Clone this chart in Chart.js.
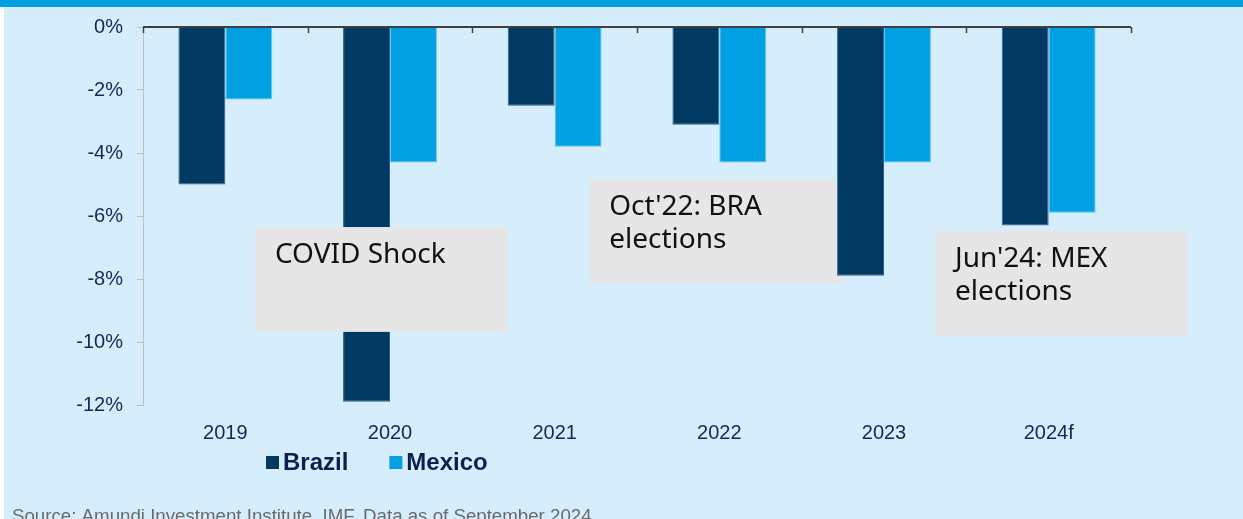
<!DOCTYPE html>
<html>
<head>
<meta charset="utf-8">
<script src="https://cdn.jsdelivr.net/npm/chart.js@4.4.1/dist/chart.umd.min.js"></script>
<style>
    body { margin: 0; background: #ffffff; }
    #wrap { position: relative; width: 1243px; height: 519px; overflow: hidden; }
    #panel { position: absolute; left: 4px; top: 7px; right: 0; bottom: 0; background: #d6eefc; }
    #topBar { position: absolute; left: 0; top: 0; width: 1243px; height: 7px; background: #00a0e3; }
    #budgetChart { position: absolute; left: 0; top: 0; }
</style>
</head>
<body>
<div id="wrap">
    <div id="panel"></div>
    <div id="topBar"></div>
    <canvas id="budgetChart" width="1243" height="519"></canvas>
</div>
<script>
// fiscal balance, % of GDP
const years = ["2019", "2020", "2021", "2022", "2023", "2024f"];
const brazil = [-5.0, -11.9, -2.5, -3.1, -7.9, -6.3];
const mexico = [-2.3, -4.3, -3.8, -4.3, -4.3, -5.9];
const seriesNames = ["Brazil", "Mexico"];
const sourceText = "Source: Amundi Investment Institute, IMF. Data as of September 2024";

// text boxes, placed in axis units (category index, % value)
const notes = [
    { lines: ["COVID Shock"], x0: 0.18, x1: 1.71, y0: -6.35, y1: -9.68, under: false },
    { lines: ["Oct'22: BRA", "elections"], x0: 2.21, x1: 3.745, y0: -4.83, y1: -8.13, under: true },
    { lines: ["Jun'24: MEX", "elections"], x0: 4.31, x1: 5.84, y0: -6.48, y1: -9.81, under: false }
];

const navy = "#0e2a56";
const brazilColor = "#003a63";
const mexicoColor = "#00a0e2";

function drawNotes(chart, under) {
    const ctx = chart.ctx;
    const xs = chart.scales.x, ys = chart.scales.y;
    ctx.save();
    notes.filter(n => n.under === under).forEach(n => {
        const left = xs.getPixelForValue(n.x0), right = xs.getPixelForValue(n.x1);
        const top = ys.getPixelForValue(n.y0), bottom = ys.getPixelForValue(n.y1);
        ctx.fillStyle = "#e6e6e6";
        ctx.fillRect(left, top, right - left, bottom - top);
        ctx.fillStyle = "#111111";
        ctx.font = "28px 'Noto Sans'";
        ctx.textAlign = "left";
        ctx.textBaseline = "alphabetic";
        n.lines.forEach((t, i) => ctx.fillText(t, left + 20, top + 36 + i * 33));
    });
    ctx.restore();
}

const notesPlugin = {
    id: "notes",
    beforeDatasetsDraw(chart) { drawNotes(chart, true); },
    afterDatasetsDraw(chart) {
        drawNotes(chart, false);
        // zero line with category ticks
        const ctx = chart.ctx;
        const xs = chart.scales.x;
        const y0 = chart.scales.y.getPixelForValue(0);
        const area = chart.chartArea;
        ctx.save();
        ctx.strokeStyle = "#404040";
        ctx.lineWidth = 2;
        ctx.beginPath();
        ctx.moveTo(area.left, y0);
        ctx.lineTo(area.right, y0);
        ctx.stroke();
        ctx.lineWidth = 1.5;
        for (let i = 0; i <= years.length; i++) {
            const x = Math.round(xs.getPixelForValue(i - 0.5)) + 0.5;
            ctx.beginPath();
            ctx.moveTo(x, y0);
            ctx.lineTo(x, y0 + 6);
            ctx.stroke();
        }
        ctx.restore();
    },
    afterDraw(chart) {
        const ctx = chart.ctx;
        ctx.save();
        // legend
        ctx.font = "bold 24px 'Liberation Sans'";
        ctx.textBaseline = "middle";
        ctx.textAlign = "left";
        let x = 266;
        const ly = 462;
        chart.data.datasets.forEach((ds, i) => {
            ctx.fillStyle = ds.backgroundColor;
            ctx.fillRect(x, ly - 6, 13, 13);
            ctx.fillStyle = "#0b2050";
            ctx.fillText(ds.label, x + 17, ly + 1);
            x += 17 + ctx.measureText(ds.label).width + 41;
        });
        // source
        ctx.font = "18.7px 'Liberation Sans'";
        ctx.fillStyle = "#6a6a6a";
        ctx.textBaseline = "alphabetic";
        ctx.fillText(sourceText, 12, 522);
        ctx.restore();
    }
};

const ctxBudget = document.getElementById("budgetChart");
const dataBudget = {
    labels: years,
    datasets: [{
        label: seriesNames[0],
        data: brazil,
        backgroundColor: brazilColor,
        borderColor: "#2f6088",
        borderWidth: 1
    },
    {
        label: seriesNames[1],
        data: mexico,
        backgroundColor: mexicoColor,
        borderColor: "#62c4ef",
        borderWidth: 1
    }]
};
const configBudget = {
    type: "bar",
    data: dataBudget,
    plugins: [notesPlugin],
    options: {
        responsive: false,
        animation: false,
        layout: { padding: { top: 27, right: 112, left: 0, bottom: 0 } },
        datasets: { bar: { categoryPercentage: 0.57, barPercentage: 1.0 } },
        plugins: { legend: { display: false }, tooltip: { enabled: false } },
        scales: {
            x: {
                afterFit: s => { s.height = 114; },
                grid: { display: false },
                border: { display: false },
                ticks: { color: navy, font: { family: "'Liberation Sans'", size: 20 }, padding: 8 }
            },
            y: {
                min: -12,
                max: 0,
                afterFit: s => { s.width = 143; },
                grid: { drawOnChartArea: false, color: "#bfbfbf", tickLength: 6 },
                border: { color: "#bfbfbf" },
                ticks: {
                    stepSize: 2,
                    color: navy,
                    padding: 14,
                    font: { family: "'Liberation Sans'", size: 20 },
                    callback: v => v + "%"
                }
            }
        }
    }
};
new Chart(ctxBudget, configBudget);
</script>
</body>
</html>
